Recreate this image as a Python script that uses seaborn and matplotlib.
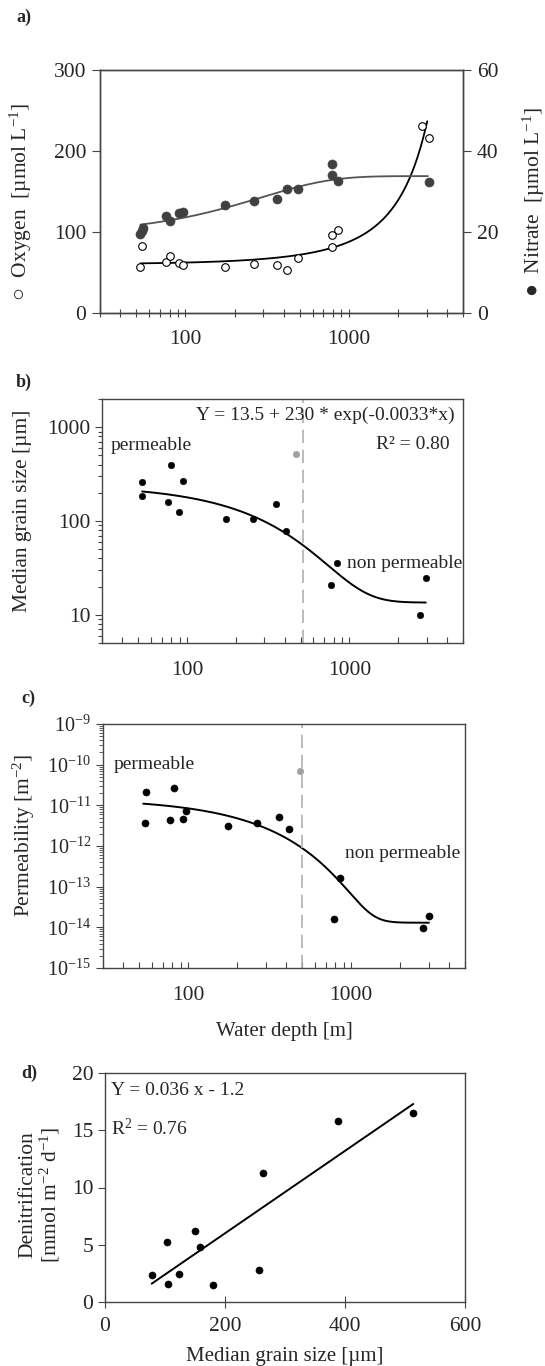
import numpy as np
import pandas as pd
import matplotlib
matplotlib.use("Agg")
import matplotlib.pyplot as plt
import seaborn as sns
from matplotlib.ticker import LogLocator, NullFormatter, FixedLocator, LogFormatterSciNotation

sns.set_theme(style="ticks")
plt.rcParams['font.family'] = ['Liberation Serif', 'DejaVu Sans']
plt.rcParams['mathtext.fontset'] = 'custom'
plt.rcParams['mathtext.rm'] = 'Liberation Serif'
plt.rcParams['mathtext.it'] = 'Liberation Serif:italic'
plt.rcParams['mathtext.bf'] = 'Liberation Serif:bold'

# ---------------- data ----------------
# panel a: oxygen (open) and nitrate (filled) vs water depth
oxy_depth = [53, 54.3, 76.5, 80.5, 91, 96, 174, 262, 364, 419, 487, 787, 794, 860, 2812, 3090]
oxy_val = [56.9, 82.4, 63, 70, 62.2, 59.3, 56.9, 61, 59.3, 53.6, 68.4, 81.6, 96.8, 102, 231, 215.5]
nit_depth = [53, 54, 55, 76.5, 80.5, 91, 96, 174, 262, 364, 419, 487, 787, 794, 860, 3090]
nit_val = [19.4, 20.3, 20.9, 23.9, 22.7, 24.6, 25.0, 26.6, 27.7, 28.1, 30.7, 30.6, 36.8, 34.0, 32.6, 32.4]
# fitted curves (parameters)
oxy_fit = (27.9, 32.3, 0.000618)      # a + b*exp(c*x)
nit_fit = (33.8, 14.4, 0.00346)       # a - b*exp(-c*x)

# panel b: median grain size vs depth
gs_depth = [52.8, 52.8, 80.2, 76.5, 89.8, 95.2, 173, 256, 353, 406, 767, 843, 2704, 2952]
gs_val = [258, 184, 392, 158, 126, 266, 106, 104, 151, 78.8, 20.8, 35.5, 10, 24.5]
gs_out_depth = [472]
gs_out_val = [518]
gs_fit = (13.5, 230, 0.0033)          # Y = 13.5 + 230*exp(-0.0033*x)

# panel c: permeability vs depth
pm_depth = [55, 54.2, 82.2, 77.4, 92.5, 96.6, 175, 264, 363, 416, 851, 783, 2757, 3027]
pm_val = [2.1e-11, 3.6e-12, 2.7e-11, 4.4e-12, 4.7e-12, 7.4e-12, 3.1e-12, 3.6e-12, 5.1e-12,
          2.6e-12, 1.6e-13, 1.6e-14, 9.4e-15, 1.9e-14]
pm_out_depth = [484]
pm_out_val = [7.1e-11]
pm_fit = (1.3e-14, 1.48e-11, 0.00565)  # a + b*exp(-c*x)

# panel d: denitrification vs median grain size
dn_gs = [77.8, 102.8, 105.7, 123.7, 149.8, 157.9, 180, 256.6, 263.6, 387.8, 513.8]
dn_val = [2.35, 5.26, 1.57, 2.47, 6.19, 4.77, 1.45, 2.76, 11.31, 15.78, 16.51]
dn_fit = (0.036, -1.2)

# ---------------- figure ----------------
W, H = 545, 1366
fig = plt.figure(figsize=(W / 100, H / 100), dpi=100)


def rect(l, r, t, b):
    return [l / W, 1 - b / H, (r - l) / W, (b - t) / H]


TFS = 15.5   # tick labels
YFS = 15.5   # y labels
XFS = 15     # x labels
AFS = 14     # annotations
PFS = 13     # panel letters
SPINE = '#444444'


def style_spines(ax):
    for s in ax.spines.values():
        s.set_color(SPINE)
        s.set_linewidth(1.0)
        s.set_visible(True)


# ---- panel a ----
axa = fig.add_axes(rect(100, 463, 70, 313))
axa2 = axa.twinx()
xa = np.geomspace(53, 3020, 300)
dfo = pd.DataFrame({'x': oxy_depth, 'y': oxy_val})
dfn = pd.DataFrame({'x': nit_depth, 'y': nit_val})
sns.lineplot(x=xa, y=oxy_fit[0] + oxy_fit[1] * np.exp(oxy_fit[2] * xa), ax=axa, color='black', lw=1.3)
sns.scatterplot(data=dfo, x='x', y='y', ax=axa, marker='o', s=30, facecolor='white',
                edgecolor='black', linewidth=0.8, zorder=3)
xn = np.geomspace(53, 3050, 300)
sns.lineplot(x=xn, y=nit_fit[0] - nit_fit[1] * np.exp(-nit_fit[2] * xn), ax=axa2, color='#555555', lw=1.3)
sns.scatterplot(data=dfn, x='x', y='y', ax=axa2, marker='o', s=42, color='#404040',
                edgecolor='#404040', linewidth=0.5, zorder=3)
axa.set_xscale('log')
axa.set_xlim(30, 5000)
axa.set_ylim(0, 300)
axa2.set_ylim(0, 60)
axa.set_yticks([0, 100, 200, 300])
axa2.set_yticks([0, 20, 40, 60])
axa.set_xticks([100, 1000])
axa.set_xticklabels(['100', '1000'])
axa.xaxis.set_minor_locator(LogLocator(base=10, subs=np.arange(2, 10)))
axa.xaxis.set_minor_formatter(NullFormatter())
axa.tick_params(axis='x', which='both', direction='inout', length=6, width=0.8, color=SPINE,
                labelsize=TFS, pad=9)
axa.tick_params(axis='y', direction='out', length=6, width=0.8, color=SPINE, labelsize=TFS, pad=4)
axa2.tick_params(axis='y', direction='out', length=6, width=0.8, color=SPINE, labelsize=TFS, pad=4)
axa.set_xlabel('')
axa.set_ylabel('○  Oxygen  [µmol L$^{-1}$]', fontsize=YFS)
axa.yaxis.set_label_coords(-0.181, 0.457)
axa2.set_ylabel('●  Nitrate  [µmol L$^{-1}$]', fontsize=YFS, rotation=90)
axa2.yaxis.set_label_coords(1.159, 0.457)
axa2.set_xlabel('')
style_spines(axa)
style_spines(axa2)
fig.text(16 / W, 1 - 17 / H, 'a)', fontsize=PFS, fontweight='bold', va='center', ha='left')

# ---- panel b ----
axb = fig.add_axes(rect(102, 463, 399, 643))
xb = np.geomspace(53, 2950, 300)
sns.lineplot(x=xb, y=gs_fit[0] + gs_fit[1] * np.exp(-gs_fit[2] * xb), ax=axb, color='black', lw=1.4)
sns.scatterplot(x=gs_depth, y=gs_val, ax=axb, color='black', s=22, edgecolor='black', zorder=3)
sns.scatterplot(x=gs_out_depth, y=gs_out_val, ax=axb, color='#a0a0a0', s=22, edgecolor='#a0a0a0', zorder=3)
axb.axvline(520, color='#b0b0b0', lw=1.2, dashes=(8, 4))
axb.set_xscale('log')
axb.set_yscale('log')
axb.set_xlim(30, 5000)
axb.set_ylim(5, 2000)
axb.set_xticks([100, 1000])
axb.set_xticklabels(['100', '1000'])
axb.xaxis.set_minor_locator(LogLocator(base=10, subs=np.arange(2, 10)))
axb.xaxis.set_minor_formatter(NullFormatter())
axb.set_yticks([10, 100, 1000])
axb.set_yticklabels(['10', '100', '1000'])
axb.yaxis.set_minor_locator(LogLocator(base=10, subs=np.arange(2, 10)))
axb.yaxis.set_minor_formatter(NullFormatter())
axb.tick_params(axis='x', which='both', direction='in', length=4, width=0.8, color=SPINE,
                labelsize=TFS, pad=13)
axb.tick_params(axis='y', which='major', direction='out', length=5, width=0.8, color=SPINE, labelsize=TFS)
axb.tick_params(axis='y', which='minor', direction='out', length=3, width=0.8, color=SPINE)
axb.set_ylabel('Median grain size [µm]', fontsize=YFS)
axb.yaxis.set_label_coords(-0.194, 0.54)
axb.text(0.978, 0.935, 'Y = 13.5 + 230 * exp(-0.0033*x)', transform=axb.transAxes,
         ha='right', va='center', fontsize=AFS)
axb.text(0.963, 0.812, 'R² = 0.80', transform=axb.transAxes, ha='right', va='center', fontsize=AFS)
axb.text(0.024, 0.808, 'permeable', transform=axb.transAxes, ha='left', va='center', fontsize=AFS)
axb.text(0.68, 0.327, 'non permeable', transform=axb.transAxes, ha='left', va='center', fontsize=AFS)
style_spines(axb)
fig.text(16 / W, 1 - 382 / H, 'b)', fontsize=PFS, fontweight='bold', va='center', ha='left')

# ---- panel c ----
axc = fig.add_axes(rect(103, 465, 724, 968))
xc = np.geomspace(53, 3000, 300)
sns.lineplot(x=xc, y=pm_fit[0] + pm_fit[1] * np.exp(-pm_fit[2] * xc), ax=axc, color='black', lw=1.4)
sns.scatterplot(x=pm_depth, y=pm_val, ax=axc, color='black', s=26, edgecolor='black', zorder=3)
sns.scatterplot(x=pm_out_depth, y=pm_out_val, ax=axc, color='#a0a0a0', s=22, edgecolor='#a0a0a0', zorder=3)
axc.axvline(500, color='#b0b0b0', lw=1.2, dashes=(8, 4))
axc.set_xscale('log')
axc.set_yscale('log')
axc.set_xlim(30, 5000)
axc.set_ylim(1e-15, 1e-9)
axc.set_xticks([100, 1000])
axc.set_xticklabels(['100', '1000'])
axc.xaxis.set_minor_locator(LogLocator(base=10, subs=np.arange(2, 10)))
axc.xaxis.set_minor_formatter(NullFormatter())
axc.yaxis.set_major_locator(FixedLocator([10.0 ** k for k in range(-15, -8)]))
axc.yaxis.set_major_formatter(LogFormatterSciNotation())
axc.yaxis.set_minor_locator(LogLocator(base=10, subs=np.arange(2, 10), numticks=20))
axc.yaxis.set_minor_formatter(NullFormatter())
axc.tick_params(axis='x', which='both', direction='in', length=4, width=0.8, color=SPINE,
                labelsize=TFS, pad=13)
axc.tick_params(axis='y', which='major', direction='out', length=5, width=0.8, color=SPINE, labelsize=14.5)
axc.tick_params(axis='y', which='minor', direction='out', length=3, width=0.6, color=SPINE)
axc.set_ylabel('Permeability [m$^{-2}$]', fontsize=YFS)
axc.yaxis.set_label_coords(-0.181, 0.545)
axc.text(0.029, 0.832, 'permeable', transform=axc.transAxes, ha='left', va='center', fontsize=AFS)
axc.text(0.669, 0.471, 'non permeable', transform=axc.transAxes, ha='left', va='center', fontsize=AFS)
axc.text(0.5, -0.262, 'Water depth [m]', transform=axc.transAxes, ha='center', va='center', fontsize=XFS)
style_spines(axc)
fig.text(21 / W, 1 - 698 / H, 'c)', fontsize=PFS, fontweight='bold', va='center', ha='left')

# ---- panel d ----
axd = fig.add_axes(rect(105, 465, 1073, 1302))
xd = np.array([min(dn_gs), max(dn_gs)])
sns.lineplot(x=xd, y=dn_fit[0] * xd + dn_fit[1], ax=axd, color='black', lw=1.4)
sns.scatterplot(x=dn_gs, y=dn_val, ax=axd, color='black', s=26, edgecolor='black', zorder=3)
axd.set_xlim(0, 600)
axd.set_ylim(0, 20)
axd.set_xticks([0, 200, 400, 600])
axd.set_yticks([0, 5, 10, 15, 20])
axd.tick_params(axis='x', direction='inout', length=8, width=0.8, color=SPINE, labelsize=TFS, pad=7)
axd.tick_params(axis='y', direction='out', length=5, width=0.8, color=SPINE, labelsize=TFS)
axd.set_ylabel('Denitrification\n[mmol m$^{-2}$ d$^{-1}$]', fontsize=YFS, linespacing=1.05)
axd.yaxis.set_label_coords(-0.119, 0.467)
axd.text(0.016, 0.924, 'Y = 0.036 x - 1.2', transform=axd.transAxes, ha='left', va='center', fontsize=AFS)
axd.text(0.016, 0.757, 'R$^2$ = 0.76', transform=axd.transAxes, ha='left', va='center', fontsize=AFS)
axd.text(0.5, -0.240, 'Median grain size [µm]', transform=axd.transAxes, ha='center', va='center', fontsize=XFS)
style_spines(axd)
fig.text(21 / W, 1 - 1073 / H, 'd)', fontsize=PFS, fontweight='bold', va='center', ha='left')

for ax in (axa, axb, axc, axd):
    ax.set_xlabel('')
    leg = ax.get_legend()
    if leg:
        leg.remove()

fig.savefig('out.png', dpi=100)
